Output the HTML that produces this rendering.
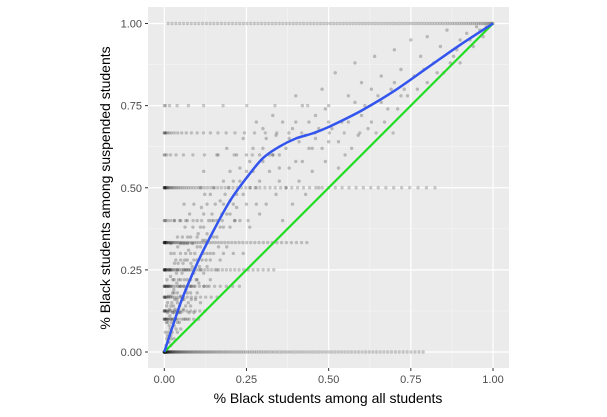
<!DOCTYPE html>
<html><head><meta charset="utf-8"><style>
body{margin:0;background:#fff;font-family:"Liberation Sans",sans-serif}
</style></head><body>
<svg id="chart" width="607" height="412" xmlns="http://www.w3.org/2000/svg">
<rect x="148" y="7" width="361" height="361" fill="#ebebeb"/>
<g id="grid"></g><g id="pts"></g><g id="lines"></g><g id="axes"></g>
<text x="328" y="403" text-anchor="middle" font-size="14" fill="#000">% Black students among all students</text>
<text transform="translate(110,188) rotate(-90)" text-anchor="middle" font-size="14" fill="#000">% Black students among suspended students</text>
</svg>
<script>
const ticks=[0,0.25,0.5,0.75,1];
const tickLabels=["0.00","0.25","0.50","0.75","1.00"];
const cloud=[[0.01,0.05],[0.02,0.1],[0.03,0.08],[0.02,0.2],[0.04,0.15],[0.05,0.12],[0.03,0.3],[0.06,0.25],[0.07,0.18],[0.08,0.3],[0.05,0.4],[0.1,0.22],[0.1,0.35],[0.12,0.3],[0.12,0.42],[0.14,0.28],[0.15,0.4],[0.15,0.5],[0.16,0.35],[0.18,0.45],[0.2,0.38],[0.2,0.55],[0.22,0.48],[0.22,0.6],[0.25,0.45],[0.25,0.55],[0.27,0.62],[0.28,0.5],[0.3,0.58],[0.3,0.68],[0.32,0.55],[0.33,0.72],[0.35,0.6],[0.35,0.52],[0.38,0.65],[0.4,0.58],[0.4,0.7],[0.42,0.75],[0.44,0.62],[0.45,0.55],[0.46,0.72],[0.48,0.8],[0.5,0.64],[0.5,0.75],[0.52,0.85],[0.54,0.7],[0.55,0.6],[0.56,0.78],[0.58,0.88],[0.6,0.72],[0.6,0.82],[0.62,0.68],[0.64,0.9],[0.65,0.78],[0.66,0.84],[0.68,0.74],[0.7,0.92],[0.7,0.82],[0.72,0.86],[0.74,0.78],[0.75,0.95],[0.76,0.84],[0.78,0.9],[0.8,0.82],[0.8,0.96],[0.82,0.88],[0.84,0.93],[0.85,0.85],[0.86,0.98],[0.88,0.9],[0.9,0.95],[0.9,0.88],[0.92,0.97],[0.94,0.93],[0.95,0.99],[0.97,0.96],[0.98,0.99],[0.02,0.02],[0.04,0.06],[0.06,0.1],[0.08,0.14],[0.09,0.2],[0.11,0.15],[0.13,0.2],[0.13,0.36],[0.17,0.28],[0.19,0.32],[0.21,0.3],[0.23,0.4],[0.24,0.3],[0.26,0.38],[0.29,0.42],[0.31,0.45],[0.34,0.48],[0.36,0.4],[0.37,0.5],[0.39,0.45],[0.41,0.52],[0.43,0.48],[0.47,0.5],[0.49,0.58],[0.53,0.56],[0.57,0.62],[0.59,0.66],[0.63,0.7],[0.67,0.7],[0.71,0.74],[0.73,0.8],[0.77,0.8],[0.79,0.86],[0.83,0.85],[0.87,0.88],[0.89,0.92],[0.93,0.95],[0.96,0.98],[0.01,0.15],[0.02,0.25],[0.03,0.18],[0.04,0.35],[0.05,0.22],[0.06,0.33],[0.07,0.4],[0.08,0.22],[0.09,0.45],[0.11,0.5],[0.12,0.55],[0.14,0.48],[0.16,0.6],[0.18,0.52],[0.19,0.62],[0.21,0.45],[0.23,0.52],[0.24,0.65],[0.26,0.58],[0.28,0.7],[0.29,0.6],[0.31,0.65],[0.33,0.6],[0.36,0.7],[0.38,0.56],[0.4,0.78],[0.43,0.66],[0.45,0.62],[0.47,0.68],[0.5,0.7],[0.53,0.64],[0.56,0.7],[0.58,0.76],[0.61,0.75],[0.63,0.8],[0.66,0.76],[0.69,0.8],[0.72,0.78],[0.01,0.03],[0.015,0.08],[0.02,0.05],[0.025,0.12],[0.03,0.04],[0.035,0.1],[0.04,0.09],[0.045,0.2],[0.05,0.07],[0.055,0.16],[0.06,0.2],[0.065,0.14],[0.07,0.28],[0.075,0.12],[0.08,0.18],[0.085,0.26],[0.09,0.12],[0.1,0.18],[0.1,0.28],[0.11,0.25],[0.12,0.2],[0.13,0.26],[0.14,0.22],[0.15,0.3],[0.16,0.25],[0.17,0.38],[0.18,0.3],[0.2,0.42],[0.01,0.1],[0.02,0.14],[0.03,0.12],[0.03,0.22],[0.04,0.18],[0.05,0.28],[0.06,0.16],[0.07,0.22],[0.08,0.35],[0.09,0.28],[0.1,0.4],[0.11,0.32],[0.12,0.38],[0.13,0.45],[0.14,0.35],[0.02,0.33],[0.03,0.4],[0.04,0.25],[0.05,0.33],[0.06,0.45],[0.07,0.33],[0.01,0.2],[0.02,0.3],[0.015,0.25],[0.025,0.18],[0.035,0.28],[0.045,0.12],[0.055,0.35],[0.065,0.3],[0.075,0.25],
[0.005,0.02],[0.008,0.04],[0.012,0.06],[0.006,0.09],[0.01,0.12],[0.014,0.03],[0.018,0.07],[0.022,0.09],[0.016,0.13],[0.012,0.17],[0.008,0.22],[0.02,0.17],[0.024,0.06],[0.028,0.14],[0.026,0.22],[0.032,0.16],[0.036,0.07],[0.04,0.12],[0.038,0.21],[0.042,0.27],[0.046,0.09],[0.05,0.17],[0.054,0.24],[0.058,0.13],[0.062,0.28],[0.066,0.19],[0.07,0.1],[0.074,0.31],[0.078,0.2],[0.082,0.16],[0.086,0.33],[0.09,0.24],[0.095,0.16],[0.1,0.32],[0.105,0.21],[0.11,0.38],[0.115,0.28],[0.12,0.24],[0.125,0.34],[0.13,0.3],[0.135,0.4],[0.14,0.3],[0.145,0.42],[0.15,0.35],[0.155,0.45],[0.16,0.4],[0.165,0.32],[0.17,0.46],[0.175,0.42],[0.18,0.38],[0.185,0.48],[0.19,0.42],[0.195,0.5],[0.2,0.46],[0.21,0.52],[0.215,0.4],[0.22,0.44],[0.23,0.56],[0.24,0.48],[0.25,0.6],[0.26,0.5],[0.27,0.55],[0.28,0.45],[0.29,0.52],[0.3,0.62],[0.32,0.6],[0.34,0.66],[0.35,0.56],[0.37,0.62],[0.39,0.68],[0.41,0.64],[0.42,0.58],[0.44,0.7],[0.46,0.65],[0.48,0.62],[0.49,0.74],[0.51,0.68],[0.003,0.06],[0.007,0.14],[0.011,0.09],[0.013,0.2],[0.017,0.11],[0.019,0.23],[0.021,0.04],[0.023,0.15],[0.027,0.1],[0.029,0.19],[0.031,0.27],[0.033,0.13],[0.037,0.24],[0.039,0.16],[0.041,0.32],[0.043,0.22],[0.047,0.14],[0.049,0.3],[0.051,0.2],[0.057,0.27],[0.061,0.22],[0.063,0.38],[0.067,0.25],[0.071,0.35],[0.073,0.15],[0.077,0.42],[0.081,0.27],[0.083,0.2],[0.087,0.38],[0.093,0.3],[0.097,0.22],[0.103,0.36],[0.107,0.26],[0.113,0.44],[0.117,0.34],[0.123,0.48],[0.127,0.28]];
const bandLevels=[0,1,0.5,0.333,0.25,0.667,0.2,0.125,0.167,0.1,0.4,0.6,0.75];
const bandMaxX=[0.8,1,0.85,0.45,0.35,0.75,0.25,0.14,0.18,0.12,0.3,0.4,0.55];
const bandCounts=[140,110,70,60,45,30,25,18,20,16,14,12,10];
const smoothX=[0,0.05,0.1,0.15,0.2,0.25,0.3,0.35,0.4,0.45,0.5,0.6,0.7,0.8,0.9,1];
const smoothY=[0,0.15,0.27,0.37,0.46,0.53,0.59,0.625,0.65,0.665,0.685,0.735,0.795,0.865,0.935,1];
const X=v=>164.3+v*328.7, Y=v=>352-v*328.5;
const NS="http://www.w3.org/2000/svg";
function mk(p,t,a){const e=document.createElementNS(NS,t);for(const k in a)e.setAttribute(k,a[k]);p.appendChild(e);return e;}
const grid=document.getElementById('grid'),pts=document.getElementById('pts'),lines=document.getElementById('lines'),axes=document.getElementById('axes');
for(let i=0;i<ticks.length;i++){
 if(i<ticks.length-1){const m=(ticks[i]+ticks[i+1])/2;
  let a=mk(grid,'line',{x1:X(m),x2:X(m),y1:7,y2:368,stroke:'#f5f5f5','stroke-width':0.6});
  
  let b=mk(grid,'line',{x1:148,x2:509,y1:Y(m),y2:Y(m),stroke:'#f5f5f5','stroke-width':0.6});
  }
 let gx=mk(grid,'line',{x1:X(ticks[i]),x2:X(ticks[i]),y1:7,y2:368,stroke:'#fff','stroke-width':1.2});
 
 let gy=mk(grid,'line',{x1:148,x2:509,y1:Y(ticks[i]),y2:Y(ticks[i]),stroke:'#fff','stroke-width':1.2});
 
 let tx=mk(axes,'text',{x:X(ticks[i]),y:383,'text-anchor':'middle','font-size':11,fill:'#4d4d4d'});tx.textContent=tickLabels[i];
 
 let ty=mk(axes,'text',{x:142,y:Y(ticks[i])+4,'text-anchor':'end','font-size':11,fill:'#4d4d4d'});ty.textContent=tickLabels[i];
 
 mk(axes,'line',{x1:145,x2:148,y1:Y(ticks[i]),y2:Y(ticks[i]),stroke:'#333'});
 mk(axes,'line',{x1:X(ticks[i]),x2:X(ticks[i]),y1:368,y2:371,stroke:'#333'});
}
for(const [a,b] of cloud){let c=mk(pts,'circle',{cx:X(a),cy:Y(b),r:1.7,fill:'#000','fill-opacity':0.22});
 }
for(let k=0;k<bandLevels.length;k++){for(let j=0;j<bandCounts[k];j++){
 const f=j/bandCounts[k];const xv=bandLevels[k]===1?Math.pow(f,1.3)*bandMaxX[k]:Math.pow(f,2.2)*bandMaxX[k];
 let c=mk(pts,'circle',{cx:X(bandLevels[k]===1?1-xv:xv),cy:Y(bandLevels[k]),r:1.7,fill:'#000','fill-opacity':0.2});
 }}
let g=mk(lines,'line',{x1:X(0),y1:Y(0),x2:X(1),y2:Y(1),stroke:'#22dd22','stroke-width':2.2});

const P=smoothX.map((v,i)=>[X(v),Y(smoothY[i])]);
let d='M'+P[0][0]+','+P[0][1];
for(let i=0;i<P.length-1;i++){const p0=P[Math.max(0,i-1)],p1=P[i],p2=P[i+1],p3=P[Math.min(P.length-1,i+2)];
 d+=' C'+(p1[0]+(p2[0]-p0[0])/6).toFixed(1)+','+(p1[1]+(p2[1]-p0[1])/6).toFixed(1)+' '+(p2[0]-(p3[0]-p1[0])/6).toFixed(1)+','+(p2[1]-(p3[1]-p1[1])/6).toFixed(1)+' '+p2[0].toFixed(1)+','+p2[1].toFixed(1);}
let s=mk(lines,'path',{d:d,fill:'none',stroke:'#3355ee','stroke-width':2.5,'stroke-linejoin':'round'});

</script>
</body></html>
